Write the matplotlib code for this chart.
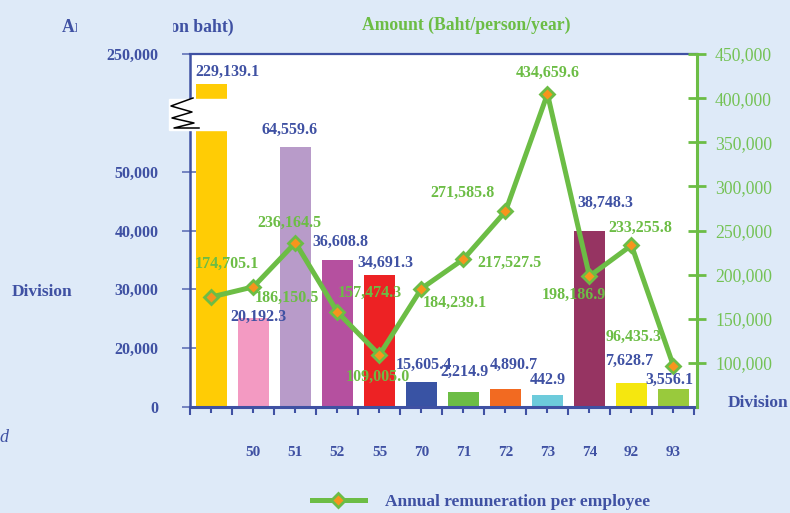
import numpy as np
import matplotlib.pyplot as plt
from matplotlib.lines import Line2D
from matplotlib.patches import Rectangle
from matplotlib.ticker import NullLocator

plt.rcParams['font.family'] = ['Liberation Serif', 'DejaVu Serif']

# data
divisions = ['', '50', '51', '52', '55', '70', '71', '72', '73', '74', '92', '93']
bar_heights = [199000, 25100, 92000, 35000, 32400, 8500, 5100, 6100, 4100, 39900, 8200, 6100]
bar_labels = ['229,139.1', '20,192.3', '64,559.6', '36,608.8', '34,691.3', '15,605.4',
              '2,214.9', '4,890.7', '442.9', '38,748.3', '7,628.7', '3,556.1']
remuneration = [174705.1, 186150.5, 236164.5, 157474.3, 109005.0, 184239.1,
                217527.5, 271585.8, 404700.0, 198186.9, 233255.8, 96435.3]
remuneration_labels = ['174,705.1', '186,150.5', '236,164.5', '157,474.3', '109,005.0', '184,239.1',
                       '217,527.5', '271,585.8', '434,659.6', '198,186.9', '233,255.8', '96,435.3']
left_ticks = [0, 20000, 30000, 40000, 50000, 250000]
right_ticks = [100000, 150000, 200000, 250000, 300000, 350000, 400000, 450000]

# styling
bg = '#deeaf8'
blue = '#3f51a3'
green = '#6cbd45'
bar_colors = ['#ffcc05', '#f39ac2', '#b89bc9', '#b5509f', '#ed2224', '#3953a4',
              '#6cbd45', '#f26a21', '#6dcbdb', '#963462', '#f5e70f', '#99ca3c']
bar_offsets = [(16, 12), (5, 1), (-6, 17), (3, 18), (6, 12), (2, 17),
               (1, 20), (8, 24), (0, 15), (16, 28), (-2, 22), (-4, 9)]
line_offsets = [(15, 33), (33, -11), (-6, 20), (32, 19), (-2, -22), (33, -14),
                (46, -4), (-43, 19), (0, 21), (-16, -19), (9, 17), (-40, 29)]

W, H = 790, 513
def fx(x):
    return x / W
def fy(y):
    return 1 - y / H

fig = plt.figure(figsize=(W / 100, H / 100), dpi=100, facecolor=bg)
ax = fig.add_axes([fx(190), fy(407), fx(697) - fx(190), fy(54) - fy(407)])
ax.set_facecolor('white')

# broken left axis: 0-20,000 squeezed, 50,000-250,000 compressed
knots_v = [0, 20000, 50000, 250000]
knots_p = [0, 1, 4, 6]
def fwd(v):
    return np.interp(v, knots_v, knots_p)
def inv(p):
    return np.interp(p, knots_p, knots_v)
ax.set_yscale('function', functions=(fwd, inv))

x = np.arange(len(divisions))
ax.bar(x, bar_heights, width=0.74, color=bar_colors, zorder=2)
ax.set_ylim(0, 250000)
ax.set_xlim(-0.51, 11.56)
ax.set_yticks(left_ticks)
ax.set_yticklabels([f'{v:,}' for v in left_ticks])
ax.yaxis.set_minor_locator(NullLocator())
ax.tick_params(axis='y', direction='inout', length=11.5, width=1.2, color='#6272b8',
               pad=17, labelsize=11.5, labelcolor=blue)
for t in ax.get_yticklabels():
    t.set_fontweight('bold')

ax.set_xticks(x)
ax.set_xticklabels(divisions, fontweight='bold')
ax.set_xticks(np.arange(-0.5, 12, 1.0), minor=True)
ax.tick_params(axis='x', which='major', direction='out', length=4.3, width=1.5,
               color=blue, pad=24, labelsize=11, labelcolor=blue)
ax.tick_params(axis='x', which='minor', direction='out', length=5.8, width=1.5, color=blue)

ax.spines['left'].set_color(blue)
ax.spines['left'].set_linewidth(1.8)
ax.spines['top'].set_color(blue)
ax.spines['top'].set_linewidth(1.6)
ax.spines['bottom'].set_color(blue)
ax.spines['bottom'].set_linewidth(2.2)
ax.spines['right'].set_visible(False)

ax2 = ax.twinx()
ax2.plot(x, remuneration, color=green, lw=3.6, marker='D', ms=7, mfc='#f7941d',
         mec=green, mew=2, zorder=3, label='Annual remuneration per employee')
ax2.set_ylim(50000, 450000)
ax2.set_yticks(right_ticks)
ax2.set_yticklabels([f'{v:,}' for v in right_ticks])
ax2.tick_params(axis='y', direction='inout', length=13, width=2, color=green,
                pad=6.5, labelsize=12.7, labelcolor='#74c255')
for side in ['left', 'top', 'bottom']:
    ax2.spines[side].set_visible(False)
ax2.spines['right'].set_color(green)
ax2.spines['right'].set_linewidth(2.2)

for i, (h, lab) in enumerate(zip(bar_heights, bar_labels)):
    ax2.annotate(lab, xy=(i, h), xycoords=ax.transData, xytext=bar_offsets[i],
                 textcoords='offset pixels', ha='center', va='center',
                 fontsize=11.5, fontweight='bold', color=blue, zorder=5)
for i, (v, lab) in enumerate(zip(remuneration, remuneration_labels)):
    ax2.annotate(lab, xy=(i, v), xytext=line_offsets[i], textcoords='offset pixels',
                 ha='center', va='center', fontsize=11.5, fontweight='bold',
                 color=green, zorder=5)

leg = ax2.legend(loc='center left', bbox_to_anchor=(fx(312), fy(502)),
                 bbox_transform=fig.transFigure, frameon=False, borderpad=0,
                 borderaxespad=0, handlelength=3.05, handletextpad=1.15,
                 prop={'weight': 'bold', 'size': 12.5}, labelcolor=blue)

# axis titles and side texts
fig.text(fx(62), fy(27), 'Amount (Million baht)', ha='left', va='center',
         fontsize=12.7, fontweight='bold', color=blue)
fig.add_artist(Rectangle((fx(77), fy(45)), fx(172) - fx(77), fy(8) - fy(45),
                         transform=fig.transFigure, color=bg, zorder=5))
fig.text(fx(466), fy(25), 'Amount (Baht/person/year)', ha='center', va='center',
         fontsize=12.7, fontweight='bold', color=green)
fig.text(fx(42), fy(292), 'Division', ha='center', va='center',
         fontsize=12.5, fontweight='bold', color=blue)
fig.text(fx(728), fy(403), 'Division', ha='left', va='center',
         fontsize=12.5, fontweight='bold', color=blue)
fig.text(fx(8), fy(437), 'd', ha='right', va='center',
         fontsize=13, style='italic', color=blue)

# axis break mark
fig.add_artist(Rectangle((fx(169), fy(130)), fx(229) - fx(169), fy(99) - fy(130),
                         transform=fig.transFigure, color='white', zorder=5))
zx = [193, 171, 192, 172, 194, 174, 199]
zy = [98, 106, 112, 118, 123, 128, 128]
fig.add_artist(Line2D([fx(v) for v in zx], [fy(v) for v in zy],
                      transform=fig.transFigure, color='black', lw=1.1, zorder=6))

fig.savefig('out.png', dpi=100, facecolor=bg)
